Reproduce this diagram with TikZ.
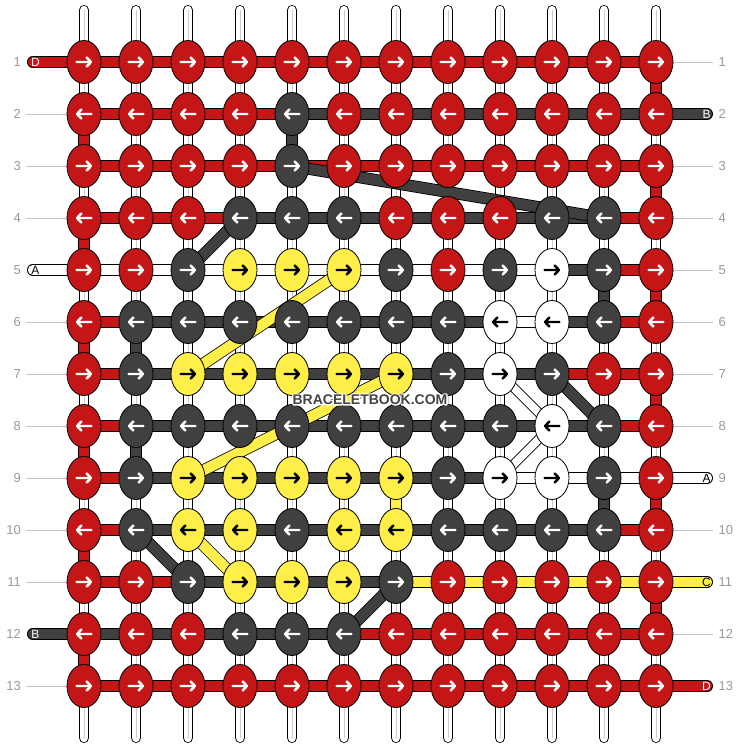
\documentclass[tikz,border=0pt]{standalone}
\usepackage{fontspec}
\setmainfont{Liberation Sans}
\definecolor{cR}{HTML}{C41616}
\definecolor{cK}{HTML}{404040}
\definecolor{cY}{HTML}{FFEF48}
\definecolor{cW}{HTML}{FFFFFF}
\colorlet{aR}{white}
\colorlet{aK}{white}
\colorlet{aY}{black}
\colorlet{aW}{black}
\definecolor{lblgray}{HTML}{9A9A9A}
\definecolor{guidegray}{HTML}{C4C4C4}
\definecolor{strandgray}{HTML}{CACACA}
\definecolor{wmgray}{HTML}{444444}
\begin{document}
\begin{tikzpicture}[x=1pt,y=-1pt,
  seg/.style={draw=black,line width=0.8pt},
  lbl/.style={text=lblgray,font=\fontsize{13}{13}\selectfont,inner sep=0pt},
  tag/.style={font=\fontsize{12}{12}\selectfont,inner sep=0pt},
  wm/.style={font=\bfseries\fontsize{14}{14}\selectfont,inner sep=0pt}]
\useasboundingbox[fill=white] (0,0) rectangle (740,748);
% vertical warp strands
\foreach \cc in {1,...,12}{
  \pgfmathsetmacro\x{84+52*(\cc-1)}
  \draw[line width=10.4pt,line cap=round] (\x,10.2) -- (\x,737.8);
  \draw[line width=8.8pt,white,line cap=round] (\x,10.2) -- (\x,737.8);
  \draw[line width=1pt,strandgray] (\x,10) -- (\x,738);
}
% coloured vertical segments
\foreach \cc/\rr/\col in {1/2/R,1/4/R,1/6/R,1/8/R,1/10/R,1/12/R,2/6/K,2/8/K,5/2/K,7/9/Y,11/5/K,11/9/K,12/1/R,12/3/R,12/5/R,12/7/R,12/9/R,12/11/R}{
  \pgfmathsetmacro\x{84+52*(\cc-1)}
  \pgfmathsetmacro\y{62+52*(\rr-1)}
  \draw[seg,fill=c\col] ({\x-5.5},\y) rectangle ({\x+5.5},{\y+52});
}
% guide lines and row numbers
\foreach \rr in {2,3,4,6,7,8,9,10,11,13}{
  \pgfmathsetmacro\y{62+52*(\rr-1)}
  \draw[guidegray,line width=1pt] (26,\y) -- (84,\y);
}
\foreach \rr in {1,3,4,5,6,7,8,10,12}{
  \pgfmathsetmacro\y{62+52*(\rr-1)}
  \draw[guidegray,line width=1pt] (656,\y) -- (713,\y);
}
\foreach \rr in {1,...,13}{
  \pgfmathsetmacro\y{62+52*(\rr-1)}
  \node[lbl,anchor=east] (ln\rr) at (21,\y) {\rr};
  \node[lbl,anchor=west] (rn\rr) at (718.5,\y) {\rr};
}
% edge string ends
\foreach \rr/\col/\t/\tc in {1/R/D/white,5/W/A/black,12/K/B/white}{
  \pgfmathsetmacro\y{62+52*(\rr-1)}
  \draw[line width=11.6pt,line cap=round] (32.8,\y) -- (84,\y);
  \draw[line width=10pt,c\col,line cap=round] (32.8,\y) -- (84,\y);
  \node[tag,text=\tc] (lt\rr) at (35.5,\y) {\t};
}
\foreach \rr/\col/\t/\tc in {2/K/B/white,9/W/A/black,11/Y/C/black,13/R/D/white}{
  \pgfmathsetmacro\y{62+52*(\rr-1)}
  \draw[line width=11.6pt,line cap=round] (656,\y) -- (707.2,\y);
  \draw[line width=10pt,c\col,line cap=round] (656,\y) -- (707.2,\y);
  \node[tag,text=\tc] (rt\rr) at (706.5,\y) {\t};
}
% horizontal weft segments
\foreach \rr/\row in {
  1/{R,R,R,R,R,R,R,R,R,R,R},
  2/{R,R,R,R,K,K,K,K,K,K,K},
  3/{R,R,R,R,R,R,R,R,R,R,R},
  4/{R,R,R,K,K,K,K,K,K,K,R},
  5/{W,W,W,W,W,W,W,W,W,K,R},
  6/{R,K,K,K,K,K,K,K,W,K,R},
  7/{R,K,K,K,K,K,K,K,K,R,R},
  8/{R,K,K,K,K,K,K,K,K,K,R},
  9/{R,K,K,K,K,K,K,K,W,W,W},
  10/{R,K,K,K,K,K,K,K,K,K,R},
  11/{R,R,K,K,K,K,Y,Y,Y,Y,Y},
  12/{K,K,K,K,K,R,R,R,R,R,R},
  13/{R,R,R,R,R,R,R,R,R,R,R}}{
  \pgfmathsetmacro\y{62+52*(\rr-1)}
  \foreach \col [count=\cc] in \row {
    \pgfmathsetmacro\x{84+52*(\cc-1)}
    \draw[seg,fill=c\col] (\x,{\y-5.5}) rectangle ({\x+52},{\y+5.5});
  }
}
% floats
\foreach \ra/\ca/\rb/\cb/\col/\w in {3/5/4/11/K/10.4,4/4/5/3/K/10.4,7/3/5/6/Y/10.4,9/3/7/7/Y/10.4,10/2/11/3/K/10.4,10/3/11/4/Y/10.4,12/6/11/7/K/10.4,7/10/8/11/K/10.4,7/9/8/10/W/8,9/9/8/10/W/8}{
  \pgfmathsetmacro\xa{84+52*(\ca-1)}
  \pgfmathsetmacro\ya{62+52*(\ra-1)}
  \pgfmathsetmacro\xb{84+52*(\cb-1)}
  \pgfmathsetmacro\yb{62+52*(\rb-1)}
  \pgfmathsetmacro\wo{\w+1.6}
  \draw[line width=\wo pt] (\xa,\ya) -- (\xb,\yb);
  \draw[line width=\w pt,c\col] (\xa,\ya) -- (\xb,\yb);
}
% knots
\foreach \rr/\row in {
  1/{R,R,R,R,R,R,R,R,R,R,R,R},
  2/{R,R,R,R,K,R,R,R,R,R,R,R},
  3/{R,R,R,R,K,R,R,R,R,R,R,R},
  4/{R,R,R,K,K,K,R,R,R,K,K,R},
  5/{R,R,K,Y,Y,Y,K,R,K,W,K,R},
  6/{R,K,K,K,K,K,K,K,W,W,K,R},
  7/{R,K,Y,Y,Y,Y,Y,K,W,K,R,R},
  8/{R,K,K,K,K,K,K,K,K,W,K,R},
  9/{R,K,Y,Y,Y,Y,Y,K,W,W,K,R},
  10/{R,K,Y,Y,K,Y,Y,K,K,K,K,R},
  11/{R,R,K,Y,Y,Y,K,R,R,R,R,R},
  12/{R,R,R,K,K,K,R,R,R,R,R,R},
  13/{R,R,R,R,R,R,R,R,R,R,R,R}}{
  \pgfmathsetmacro\y{62+52*(\rr-1)}
  \pgfmathsetmacro\dd{ifthenelse(mod(\rr,2)==1,1,-1)}
  \foreach \col [count=\cc] in \row {
    \pgfmathsetmacro\x{84+52*(\cc-1)}
    \draw[line width=0.8pt,fill=c\col] (\x,\y) ellipse [x radius=17,y radius=21.5];
    \draw[a\col,line width=2.4pt,line cap=round,line join=round]
      ({\x-7.5*(\dd)},\y) -- ({\x+7*(\dd)},\y)
      ({\x+2.6*(\dd)},{\y-4.6}) -- ({\x+7*(\dd)},\y) -- ({\x+2.6*(\dd)},{\y+4.6});
  }
}
% watermark: white outline drawn as stroked glyphs, then filled text
\node[wm,text=white] (wmhalo) at (370,399.5) {\special{pdf:literal 1 j 2.6 w 1 Tr}BRACELETBOOK.COM\special{pdf:literal 0 Tr}};
\node[wm,text=wmgray] (wmark) at (370,399.5) {BRACELETBOOK.COM};
\end{tikzpicture}
\end{document}
